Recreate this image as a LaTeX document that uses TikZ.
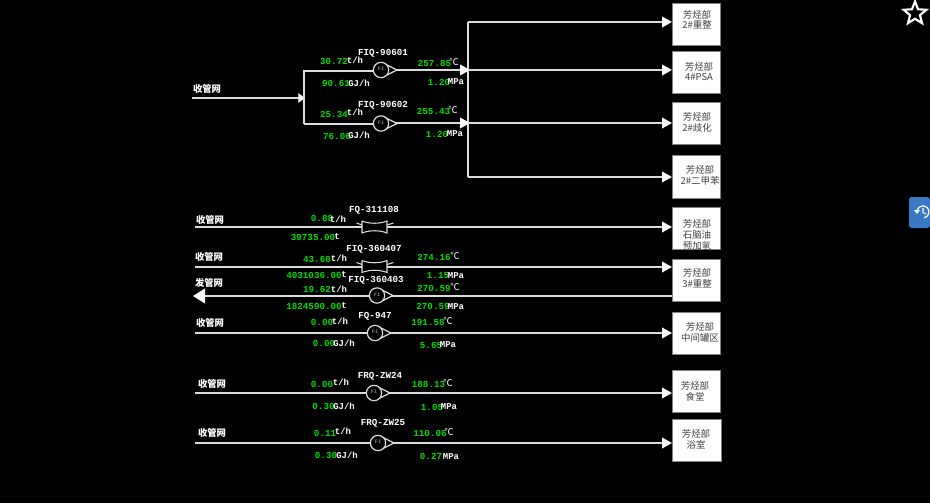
\documentclass[tikz,border=0pt]{standalone}
\usepackage{fontspec}
\setmainfont{Liberation Mono}
\newfontfamily\cjk{Noto Sans CJK SC}
\usetikzlibrary{arrows.meta,shapes.geometric,calc}
\definecolor{valgreen}{HTML}{00DC00}
\definecolor{pipegray}{HTML}{DCDCDC}
\definecolor{tabblue}{HTML}{3B78C4}
\tikzset{
  pipe/.style={draw=pipegray,line width=1.3pt},
  flow/.style={pipe,-{Triangle[length=7.5pt,width=8pt,fill=white,color=white]}},
  smallflow/.style={pipe,-{Triangle[length=5pt,width=7pt,fill=white,color=white]}},
  bigflow/.style={pipe,-{Triangle[length=9pt,width=11pt,fill=white,color=white]}},
  val/.style={inner sep=0pt,text=valgreen,font=\bfseries\fontsize{6.9}{7}\selectfont},
  unit/.style={inner sep=0pt,text=white,font=\bfseries\fontsize{6.7}{7}\selectfont},
  degunit/.style={inner sep=0pt,text=white,font=\cjk\fontsize{7}{8}\selectfont},
  tag/.style={inner sep=0pt,text=white,font=\bfseries\fontsize{6.9}{7}\selectfont},
  srclabel/.style={inner sep=0pt,text=white,font=\cjk\bfseries\fontsize{7}{8}\selectfont},
  destbox/.style={draw=gray,fill=white,line width=0.8pt,inner sep=0pt,anchor=north west},
  desttext/.style={inner sep=0pt,text=black!75,font=\cjk\fontsize{7.1}{8}\selectfont},
  meterbody/.style={circle,draw=pipegray,fill=black,line width=0.9pt,minimum size=11.5pt,inner sep=0pt,text=gray,font=\bfseries\fontsize{3.8}{4}\selectfont},
  metertip/.style={draw=pipegray,fill=black,line width=0.9pt,line join=round},
  valveline/.style={draw=pipegray,line width=0.8pt}
}
\newcommand{\meterat}[3]{% name, x, y
  \draw[metertip] (#2+2,#3-7) -- (#2+16,#3) -- (#2+2,#3+7) -- cycle;
  \node[meterbody] (#1) at (#2,#3) {\raisebox{1.2pt}{FI}};
}
\newcommand{\valveat}[3]{% name, x, y
  \fill[black] (#2-12.5,#3-6) rectangle (#2+12.5,#3+6);
  \draw[valveline] (#2-12.5,#3-6) -- (#2-12.5,#3+6) .. controls (#2-5,#3+3) and (#2+5,#3+3) .. (#2+12.5,#3+6) -- (#2+12.5,#3-6) .. controls (#2+5,#3-3) and (#2-5,#3-3) .. (#2-12.5,#3-6);
  \draw[valveline] (#2-18,#3-4) -- (#2-12.5,#3-2) (#2+12.5,#3-2) -- (#2+19,#3-4);
  \coordinate (#1) at (#2,#3);
}
\begin{document}
\begin{tikzpicture}[x=0.75pt,y=-0.75pt]
\useasboundingbox (0,0) rectangle (930,503);
\fill[black] (0,0) rectangle (930,503);

% destination boxes
\node[destbox,minimum width=36pt,minimum height=31.5pt] (d1) at (672,3) {};
\node[destbox,minimum width=36pt,minimum height=31.5pt] (d2) at (672,51) {};
\node[destbox,minimum width=36pt,minimum height=31.5pt] (d3) at (672,102) {};
\node[destbox,minimum width=36pt,minimum height=32.25pt] (d4) at (672,155) {};
\node[destbox,minimum width=36pt,minimum height=31.5pt] (d5) at (672,207) {};
\node[destbox,minimum width=36pt,minimum height=31.5pt] (d6) at (672,259) {};
\node[destbox,minimum width=36pt,minimum height=31.5pt] (d7) at (672,312) {};
\node[destbox,minimum width=36pt,minimum height=31.5pt] (d8) at (672,370) {};
\node[destbox,minimum width=36.5pt,minimum height=31.5pt] (d9) at (672,419) {};

% top header pipes
\coordinate (s0) at (192,98);
\coordinate (j0) at (305,98);
\coordinate (j1) at (304,71);
\coordinate (j2) at (304,124);
\coordinate (b1) at (468,70);
\coordinate (b2) at (468,123);
\coordinate (bt) at (468,22);
\coordinate (bb) at (468,177);
\draw[smallflow] (s0) -- (j0);
\draw[pipe] (j2) -- (j1) -- ++(80,0);
\draw[pipe] (j2) -- ++(80,0);
\draw[pipe] (bt) -- (bb);
\draw[flow] ($(j1)+(80,-1)$) -- ($(b1)+(2,0)$);
\draw[flow] ($(j2)+(80,-1)$) -- ($(b2)+(2,0)$);
\draw[flow] (bt) -- (bt -| d1.west);
\draw[flow] (b1) -- (b1 -| d2.west);
\draw[flow] (b2) -- (b2 -| d3.west);
\draw[flow] (bb) -- (bb -| d4.west);

% lower rows
\coordinate (s1) at (195,227);
\coordinate (s2) at (195,267);
\coordinate (s3) at (193,296);
\coordinate (s4) at (195,333);
\coordinate (s5) at (195,393);
\coordinate (s6) at (195,443);
\draw[flow] (s1) -- (s1 -| d5.west);
\draw[flow] (s2) -- (s2 -| d6.west);
\draw[bigflow] (s3 -| d6.west) -- (s3);
\draw[flow] (s4) -- (s4 -| d7.west);
\draw[flow] (s5) -- (s5 -| d8.west);
\draw[flow] (s6) -- (s6 -| d9.west);

% instruments
\meterat{m1}{381}{70}
\meterat{m2}{381}{123.5}
\valveat{v1}{374.5}{227}
\valveat{v2}{374.5}{266.5}
\meterat{m3}{377}{295.5}
\meterat{m4}{375}{333}
\meterat{m5}{374}{393}
\meterat{m6}{378}{443}

% source labels
\node[srclabel] (l0) at (207,89) {收管网};
\node[srclabel] (l1) at (210,219.5) {收管网};
\node[srclabel] (l2) at (209,256.5) {收管网};
\node[srclabel] (l3) at (209,283) {发管网};
\node[srclabel] (l4) at (210,322.5) {收管网};
\node[srclabel] (l5) at (212,384) {收管网};
\node[srclabel] (l6) at (212,432.5) {收管网};

% tags
\node[tag] (t1) at (383,53) {FIQ-90601};
\node[tag] (t2) at (383,105) {FIQ-90602};
\node[tag] (t3) at (374,210) {FQ-311108};
\node[tag] (t4) at (374,249) {FIQ-360407};
\node[tag] (t5) at (376,280) {FIQ-360403};
\node[tag] (t6) at (375,316) {FQ-947};
\node[tag] (t7) at (380,376) {FRQ-ZW24};
\node[tag] (t8) at (383,423) {FRQ-ZW25};

% green values
\node[val] (a1) at (334,61.5) {30.72};
\node[val] (a2) at (336,83) {90.61};
\node[val] (a3) at (434.5,63.5) {257.85};
\node[val] (a4) at (439,82) {1.20};
\node[val] (b1v) at (334,114) {25.34};
\node[val] (b2v) at (337,136.5) {76.06};
\node[val] (b3v) at (433.5,111) {255.43};
\node[val] (b4v) at (437,134) {1.20};
\node[val] (c1) at (322,218) {0.88};
\node[val] (c2) at (313,237) {39735.00};
\node[val] (e1) at (317,259) {43.60};
\node[val] (e2) at (314,275.5) {4031036.00};
\node[val] (e3) at (434,257) {274.16};
\node[val] (e4) at (438,275.5) {1.15};
\node[val] (f1) at (317,289.5) {19.62};
\node[val] (f2) at (314,306.5) {1824590.00};
\node[val] (f3) at (434,288) {270.59};
\node[val] (f4) at (433,306.5) {270.59};
\node[val] (g1) at (322,322) {0.00};
\node[val] (g2) at (324,343) {0.00};
\node[val] (g3) at (428,322) {191.58};
\node[val] (g4) at (431,345) {5.65};
\node[val] (h1) at (322,384) {0.00};
\node[val] (h2) at (323.5,406) {0.30};
\node[val] (h3) at (428.5,384) {188.13};
\node[val] (h4) at (432,407.5) {1.05};
\node[val] (i1) at (325,433) {0.11};
\node[val] (i2) at (326,455) {0.30};
\node[val] (i3) at (430,433) {110.06};
\node[val] (i4) at (431,456) {0.27};

% white units
\node[unit] (u1) at (355,60) {t/h};
\node[unit] (u2) at (359,83) {GJ/h};
\node[degunit] (u3) at (454,61.5) {℃};
\node[unit] (u4) at (456,82) {MPa};
\node[unit] (u5) at (355,112) {t/h};
\node[unit] (u6) at (359,135.5) {GJ/h};
\node[degunit] (u7) at (453,109.5) {℃};
\node[unit] (u8) at (455,134) {MPa};
\node[unit] (u9) at (338,219) {t/h};
\node[unit] (u10) at (337,236.5) {t};
\node[unit] (u11) at (339,258.5) {t/h};
\node[unit] (u12) at (344,275) {t};
\node[degunit] (u13) at (455,256) {℃};
\node[unit] (u14) at (456,275.5) {MPa};
\node[unit] (u15) at (339,289.5) {t/h};
\node[unit] (u16) at (344,306) {t};
\node[degunit] (u17) at (455,287) {℃};
\node[unit] (u18) at (456,306.5) {MPa};
\node[unit] (u19) at (340,321) {t/h};
\node[unit] (u20) at (344,343) {GJ/h};
\node[degunit] (u21) at (448,320.5) {℃};
\node[unit] (u22) at (448,344.5) {MPa};
\node[unit] (u23) at (341,382) {t/h};
\node[unit] (u24) at (344,406) {GJ/h};
\node[degunit] (u25) at (448,383) {℃};
\node[unit] (u26) at (449,407) {MPa};
\node[unit] (u27) at (343,431.5) {t/h};
\node[unit] (u28) at (347,455.5) {GJ/h};
\node[degunit] (u29) at (449,431.5) {℃};
\node[unit] (u30) at (451,456.5) {MPa};

% box captions
\node[desttext] (n1a) at (697,14.5) {芳烃部};
\node[desttext] (n1b) at (697,25) {2\#重整};
\node[desttext] (n2a) at (699,67) {芳烃部};
\node[desttext] (n2b) at (699,77.5) {4\#PSA};
\node[desttext] (n3a) at (697,117) {芳烃部};
\node[desttext] (n3b) at (697,127.5) {2\#歧化};
\node[desttext] (n4a) at (700,170) {芳烃部};
\node[desttext] (n4b) at (700,181) {2\#二甲苯};
\begin{scope}
  \clip (660,200) rectangle (730,249);
  \node[desttext] (n5a) at (697,224) {芳烃部};
  \node[desttext] (n5b) at (697,234.5) {石脑油};
  \node[desttext] (n5c) at (697,245.5) {预加氢};
\end{scope}
\node[desttext] (n6a) at (697,273) {芳烃部};
\node[desttext] (n6b) at (697,283.5) {3\#重整};
\node[desttext] (n7a) at (700,327) {芳烃部};
\node[desttext] (n7b) at (700,338) {中间罐区};
\node[desttext] (n8a) at (695,385.5) {芳烃部};
\node[desttext] (n8b) at (695,396.5) {食堂};
\node[desttext] (n9a) at (696,434) {芳烃部};
\node[desttext] (n9b) at (696,445) {浴室};

% page widgets
\node[star,star points=5,star point ratio=2.3,draw=white,line width=1.6pt,fill=black,minimum size=18pt,inner sep=0pt] (star) at (915,13.5) {};
\fill[tabblue,rounded corners=2pt] (930,197) -- (909,197) -- (909,228) -- (930,228) -- cycle;
\node[inner sep=0pt,minimum size=1pt] (clock) at (923,212) {};
\draw[white,line width=0.9pt] (917,212) arc[start angle=180,end angle=440,radius=6];
\fill[white] (914,210) -- (920,210) -- (917,214) -- cycle;
\draw[white,line width=0.8pt] (923,208) -- (923,212.5) -- (926,214);
\end{tikzpicture}
\end{document}
